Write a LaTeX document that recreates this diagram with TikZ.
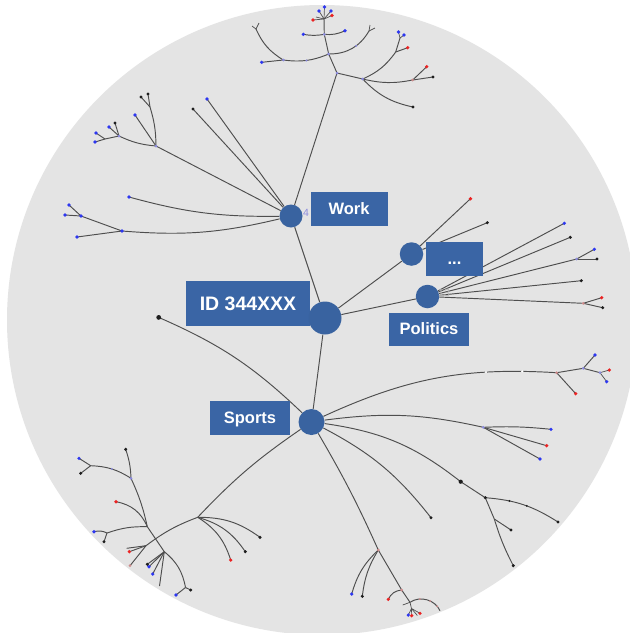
\documentclass[tikz,border=0pt]{standalone}
\usepackage{fontspec}
\setmainfont{Liberation Sans}
\pgfdeclarelayer{bg}
\pgfdeclarelayer{edges}
\pgfsetlayers{bg,edges,main}
\definecolor{bggray}{RGB}{228,228,228}
\definecolor{boxblue}{RGB}{58,101,165}
\definecolor{hubblue}{RGB}{57,99,160}
\definecolor{linegray}{RGB}{78,78,78}
\definecolor{dotblue}{RGB}{45,55,240}
\definecolor{dotred}{RGB}{235,35,35}
\definecolor{dotblack}{RGB}{30,30,30}
\definecolor{joint}{RGB}{140,140,222}
\definecolor{pale}{RGB}{205,140,140}
\begin{document}
\begin{tikzpicture}[x=1pt,y=-1pt,
  edge/.style={draw=linegray,line width=0.95pt},
  fine/.style={draw=linegray,line width=0.7pt},
  hub/.style={circle,fill=hubblue,inner sep=0pt},
  tag/.style={fill=boxblue,text=white,inner sep=0pt,text depth=0pt,text height=11.9pt,
    font=\bfseries\fontsize{16.5}{18}\selectfont},
  wdot/.style={circle,fill=white,inner sep=0pt,minimum size=2.6pt},
  kpt/.style={circle,fill=dotblack,inner sep=0pt,minimum size=2.2pt},
  jpt/.style={circle,fill=joint,inner sep=0pt,minimum size=2.2pt},
  rpt/.style={circle,fill=pale,inner sep=0pt,minimum size=2pt}]
\useasboundingbox (0,0) rectangle (630,633);

% backdrop disc
\begin{pgfonlayer}{bg}
  \fill[white] (0,0) rectangle (630,633);
  \begin{scope}
    \clip (0,0) rectangle (630,633);
    \fill[bggray] (322,320) circle[radius=315pt];
  \end{scope}
\end{pgfonlayer}

% labels
\node[tag,minimum width=77pt,minimum height=34pt] (workT) at (349,209) {Work};
\node[tag,minimum width=57pt,minimum height=34pt] (moreT) at (454.5,259) {...};
\node[tag,minimum width=124pt,minimum height=45pt,text height=14pt,
  font=\bfseries\fontsize{19.5}{22}\selectfont] (rootT) at (248,303) {ID 344XXX};
\node[tag,minimum width=80pt,minimum height=33pt] (polT) at (429,329) {Politics};
\node[tag,minimum width=80pt,minimum height=34pt] (sportsT) at (250,417.5) {Sports};

% category hubs
\node[hub,minimum size=33pt] (root) at (325,318) {};
\node[hub,minimum size=23pt] (work) at (291,216) {};
\node[hub,minimum size=23.5pt] (more) at (411.5,254) {};
\node[hub,minimum size=23.5pt] (pol) at (427.5,296.5) {};
\node[hub,minimum size=26pt] (sports) at (311.5,422) {};

\node[text=joint,font=\fontsize{10.5}{11}\selectfont] (workN) at (306,213) {4};
\node[text=black!30,font=\fontsize{10.5}{11}\selectfont] (polN) at (444,293) {13};

% ---- points of the Work subtree
\coordinate (w1) at (207,99);   \coordinate (w2) at (193,109);
\coordinate (w3) at (156,146);  \coordinate (w3a) at (150,107);
\coordinate (w3a1) at (148,94); \coordinate (w3a2) at (141,97);
\coordinate (w3b) at (135,115); \coordinate (w3c) at (119,136);
\coordinate (w3c1) at (109,127);\coordinate (w3c2) at (115,123);
\coordinate (w3d) at (105,139); \coordinate (w3d1) at (95,142);
\coordinate (w3d2) at (96,133); \coordinate (w4) at (129,197);
\coordinate (w5) at (122,231);  \coordinate (w5a) at (77,237);
\coordinate (w5b) at (81,216);  \coordinate (w5b1) at (69,205);
\coordinate (w5b2) at (65,215);
% top crown
\coordinate (t1) at (337,73);    \coordinate (t2) at (328.7,54);
\coordinate (t3) at (362.7,79);  \coordinate (t3a) at (413,107);
\coordinate (t4) at (412.7,80);  \coordinate (t4a) at (426.7,66.7);
\coordinate (t4b) at (433,77);   \coordinate (t5) at (395.7,52);
\coordinate (t5a) at (407.7,47.7);\coordinate (t6) at (400,38);
\coordinate (t6a) at (398.5,32); \coordinate (t6b) at (404,35);
\coordinate (t7) at (283.3,60);  \coordinate (t7a) at (261.7,62.3);
\coordinate (t8) at (256,29);    \coordinate (t8a) at (252,26);
\coordinate (t8b) at (259,23);   \coordinate (t9) at (369,31);
\coordinate (t9a) at (370,25);   \coordinate (t9b) at (375,28);
\coordinate (t10) at (324.3,34.3);\coordinate (t10a) at (303.3,34.3);
\coordinate (t10b) at (345,30.7);\coordinate (t11) at (324,19);
\coordinate (t11a) at (324.5,7); \coordinate (t11b) at (319,11);
\coordinate (t11c) at (331,11);  \coordinate (t11d) at (332,15.5);
\coordinate (t11e) at (313,20);  \coordinate (t11f) at (316,17);
% ellipsis and Politics leaves
\coordinate (m1) at (470.5,198.7); \coordinate (m2) at (487.3,222.7);
\coordinate (p1) at (564.3,223.3); \coordinate (p2) at (570.3,237.3);
\coordinate (p3) at (576.7,259);   \coordinate (p3a) at (594.3,249.3);
\coordinate (p3b) at (597,259);    \coordinate (p4) at (581.3,280.7);
\coordinate (p5) at (583.3,303.3); \coordinate (p5a) at (601.7,297.7);
\coordinate (p5b) at (602.7,307.7);
% Sports subtree
\coordinate (s1) at (158.7,317.4);
\coordinate (r1) at (556.7,372.7); \coordinate (r1a) at (575.7,393.7);
\coordinate (r2) at (583.3,368.3); \coordinate (r2a) at (595,355);
\coordinate (r3) at (600,372.7);   \coordinate (r3a) at (609.3,370);
\coordinate (r3b) at (606.7,381.7);
\coordinate (r4) at (483.3,427.3); \coordinate (r4a) at (551,429.3);
\coordinate (r4b) at (546.7,445.7);\coordinate (r4c) at (540,459);
\coordinate (r5) at (460.7,481.7); \coordinate (r6) at (485.3,497.7);
\coordinate (r6e) at (558,522);    \coordinate (r7) at (494.3,519);
\coordinate (r7a) at (511,530);    \coordinate (r7b) at (513.3,565.7);
\coordinate (r8) at (431,517.7);
\coordinate (s7) at (378.3,550);   \coordinate (s7a) at (351.7,594);
\coordinate (s7b) at (362.3,596.3);\coordinate (s8) at (401.7,590);
\coordinate (s8a) at (388.3,599.3);\coordinate (s9) at (410,602.3);
\coordinate (s9e) at (440,610.7);  \coordinate (s9b) at (402.7,605);
\coordinate (s10) at (411.5,608.5);\coordinate (s10a) at (408.3,615);
\coordinate (s10b) at (411.7,615.7);\coordinate (s10c) at (420,613.3);
\coordinate (s10d) at (417.3,615.5);
% lower-left cluster
\coordinate (ll) at (197.7,517.3);
\coordinate (lla) at (260,537.3);  \coordinate (llb) at (245.3,551.7);
\coordinate (llc) at (230.7,560);
\coordinate (l1) at (146,545.7);   \coordinate (l1a) at (129.3,551.7);
\coordinate (l1b) at (126.7,548.3);\coordinate (l1c) at (130,565.7);
\coordinate (vt) at (125.7,449.3); \coordinate (v1) at (131,478.3);
\coordinate (v0) at (90.7,465.7);  \coordinate (v0a) at (79,458.3);
\coordinate (v0b) at (80.7,473.3); \coordinate (v2) at (147.3,526.7);
\coordinate (v2r) at (116,501.7);  \coordinate (v4) at (107,533);
\coordinate (v4a) at (104,541.7);  \coordinate (v4b) at (94,531.7);
\coordinate (v3) at (164.3,551.7); \coordinate (v3a) at (149,566.7);
\coordinate (v3b) at (152.7,574);  \coordinate (v3c) at (147.3,564.3);
\coordinate (v3d) at (159.5,586);  \coordinate (v5) at (185.5,587.5);
\coordinate (v5a) at (176,595);    \coordinate (v5b) at (190.7,590);

\begin{pgfonlayer}{edges}
  % from the account node
  \draw[edge] (root) -- (work);
  \draw[edge] (root) -- (more);
  \draw[edge] (root) -- (pol);
  \draw[edge] (root) -- (sports);
  % Work
  \draw[edge] (work) -- (t1);
  \draw[edge] (work) -- (w1);
  \draw[edge] (work) -- (w2);
  \draw[edge] (work) -- (w3);
  \draw[edge] (w3) to[bend right=8] (w3a);
  \draw[edge] (w3a) -- (w3a1);
  \draw[edge] (w3a) -- (w3a2);
  \draw[edge] (w3) -- (w3b);
  \draw[edge] (w3) to[bend left=10] (w3c);
  \draw[edge] (w3c) -- (w3d);
  \draw[edge] (w3d) -- (w3d1);
  \draw[edge] (w3d) -- (w3d2);
  \draw[edge] (w3c) -- (w3c1);
  \draw[edge] (w3c) -- (w3c2);
  \draw[edge] (work) to[bend left=8] (w4);
  \draw[edge] (work) to[bend left=9] (w5);
  \draw[edge] (w5) -- (w5a);
  \draw[edge] (w5) -- (w5b);
  \draw[edge] (w5b) -- (w5b1);
  \draw[edge] (w5b) -- (w5b2);
  % crown
  \draw[edge] (t1) -- (t2);
  \draw[edge] (t1) -- (t3);
  \draw[edge] (t3) to[bend right=17] (t3a);
  \draw[edge] (t3) to[bend right=12] (t4);
  \draw[edge] (t4) -- (t4a);
  \draw[edge] (t4) -- (t4b);
  \draw[edge] (t3) to[bend right=15] (t5);
  \draw[edge] (t5) -- (t5a);
  \draw[edge] (t5) -- (t6);
  \draw[fine] (t6) -- (t6a);
  \draw[fine] (t6) -- (t6b);
  \draw[edge] (t2) to[bend left=15] node[pos=.5,jpt]{} (t7);
  \draw[edge] (t7) -- (t7a);
  \draw[edge] (t7) to[bend left=17] (t8);
  \draw[fine] (t8) -- (t8a);
  \draw[fine] (t8) -- (t8b);
  \draw[edge] (t2) to[bend right=30] node[pos=.6,jpt]{} (t9);
  \draw[fine] (t9) -- (t9a);
  \draw[fine] (t9) -- (t9b);
  \draw[edge] (t2) -- (t10);
  \draw[edge] (t10) to[bend left=10] (t10a);
  \draw[edge] (t10) to[bend right=15] (t10b);
  \draw[edge] (t10) -- (t11);
  \foreach \q in {t11a,t11b,t11c,t11d,t11e,t11f} \draw[fine] (t11) -- (\q);
  % ellipsis
  \draw[edge] (more) -- (m1);
  \draw[edge] (more) -- (m2);
  % Politics
  \foreach \q in {p1,p2,p3,p4,p5} \draw[edge] (pol) -- (\q);
  \draw[edge] (p3) -- (p3a);
  \draw[edge] (p3) -- (p3b);
  \draw[edge] (p5) -- (p5a);
  \draw[edge] (p5) -- (p5b);
  % Sports
  \draw[edge] (sports) to[bend right=10] (s1);
  \draw[edge] (sports) to[bend left=14] node[pos=.72,wdot]{} node[pos=.87,wdot]{} (r1);
  \draw[edge] (r1) -- (r1a);
  \draw[edge] (r1) -- (r2);
  \draw[edge] (r2) -- (r2a);
  \draw[edge] (r2) -- (r3);
  \draw[fine] (r3) -- (r3a);
  \draw[fine] (r3) -- (r3b);
  \draw[edge] (sports) to[bend left=10] (r4);
  \draw[edge] (r4) to[bend left=4] (r4a);
  \draw[edge] (r4) -- (r4b);
  \draw[edge] (r4) -- (r4c);
  \draw[edge] (sports) to[bend left=15] (r5);
  \draw[edge] (r5) -- (r6);
  \draw[edge] (r6) to[bend left=14] node[pos=.3,kpt]{} node[pos=.55,kpt]{} (r6e);
  \draw[edge] (r6) -- (r7);
  \draw[edge] (r7) -- (r7a);
  \draw[edge] (r7) to[bend right=5] (r7b);
  \draw[edge] (sports) to[bend left=12] (r8);
  \draw[edge] (sports) to[bend left=3] (s7);
  \draw[edge] (s7) to[bend right=15] (s7a);
  \draw[edge] (s7) to[bend right=12] (s7b);
  \draw[edge] (s7) -- (s8);
  \draw[edge] (s8) to[bend right=30] (s8a);
  \draw[edge] (s8) -- (s9);
  \draw[edge] (s9) to[bend left=50] node[pos=.3,rpt]{} node[pos=.6,rpt]{} node[pos=.85,rpt]{} (s9e);
  \draw[fine] (s9) -- (s9b);
  \draw[fine] (s9) -- (s10);
  \draw[fine] (s10) -- (s10a);
  \draw[fine] (s10) -- (s10b);
  \draw[fine] (s10) -- (s10c);
  \draw[fine] (s10) -- (s10d);
  % lower-left cluster
  \draw[edge] (sports) to[bend right=6] (ll);
  \draw[edge] (ll) to[bend left=18] (lla);
  \draw[edge] (ll) to[bend left=20] (llb);
  \draw[edge] (ll) to[bend left=20] (llc);
  \draw[edge] (ll) to[bend right=8] (l1);
  \draw[edge] (l1) -- (l1a);
  \draw[edge] (l1) -- (l1b);
  \draw[edge] (l1) -- (l1c);
  \draw[edge] (vt) to[bend left=8] (v1);
  \draw[edge] (v1) to[bend left=6] (v2);
  \draw[edge] (v2) -- (v3);
  \draw[edge] (v1) to[bend right=15] node[pos=.5,jpt]{} (v0);
  \draw[edge] (v0) -- (v0a);
  \draw[edge] (v0) -- (v0b);
  \draw[edge] (v2) to[bend right=28] (v2r);
  \draw[edge] (v2) to[bend right=10] (v4);
  \draw[edge] (v4) -- (v4a);
  \draw[edge] (v4) to[bend right=20] (v4b);
  \draw[edge] (v3) to[bend left=20] (v5);
  \draw[edge] (v5) -- (v5a);
  \draw[edge] (v5) -- (v5b);
  \foreach \q in {v3a,v3b,v3c,v3d} \draw[edge] (v3) -- (\q);

  % leaf and branch markers
  \foreach \q in {w1,w3b,w3c1,w3d1,w3d2,w4,w5,w5a,w5b,w5b1,w5b2,t6a,t6b,t7a,
      t10a,t10b,t11a,t11b,t11c,p1,p3a,r2a,r3b,r4a,r4c,s7a,s10a,v0a,v3a,v3b,v4b,v5a}
    \fill[dotblue] (\q) circle[radius=1.8pt];
  \foreach \q in {t4a,t5a,m1,p5a,r1a,r3a,r4b,s8a,s10b,s10c,llc,l1a,v2r,t11d,t11e}
    \fill[dotred] (\q) circle[radius=1.8pt];
  \foreach \q in {w2,w3a1,w3a2,w3c2,t3a,t4b,m2,p2,p3b,p4,p5b,r7a,r8,s7b,
      lla,llb,vt,v0b,v4a,v3c,v5b,r6e,r7b,r6}
    \fill[dotblack] (\q) circle[radius=1.7pt];
  \fill[dotblack] (s1) circle[radius=2.4pt];
  \fill[dotblack] (r5) circle[radius=2.1pt];
  \foreach \q in {t1,t2,t10,t3,w3,w3c,v1,r4,p3,t7,r2,r3}
    \fill[joint] (\q) circle[radius=1.5pt];
  \foreach \q in {t4,r1,p5,s7,s8,l1c}
    \fill[pale] (\q) circle[radius=1.5pt];
\end{pgfonlayer}
\end{tikzpicture}
\end{document}
